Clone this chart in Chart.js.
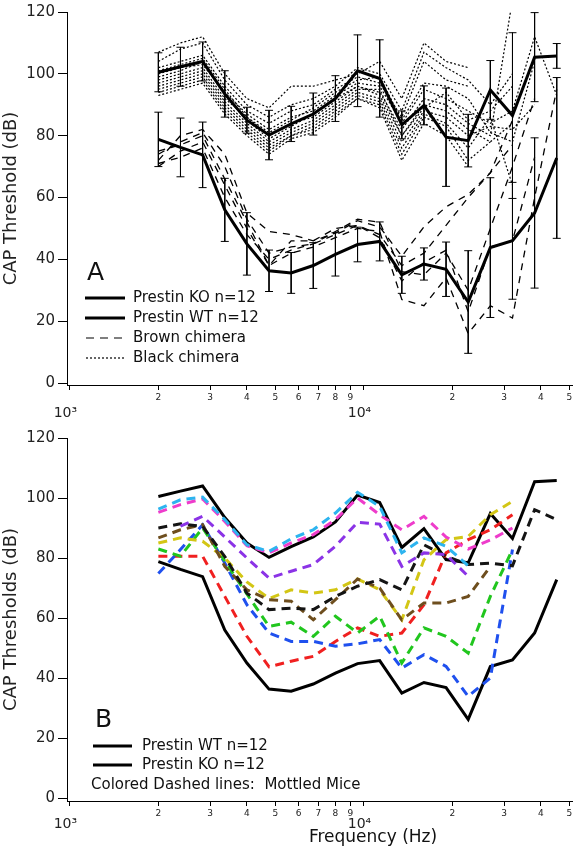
<!DOCTYPE html>
<html>
<head>
<meta charset="utf-8">
<script src="https://cdn.jsdelivr.net/npm/chart.js@4.4.0/dist/chart.umd.min.js"></script>
<style>
html, body { margin: 0; padding: 0; background: #fff; }
#wrap { position: relative; width: 586px; height: 853px; }
canvas { position: absolute; left: 0; }
#capA { top: 0; }
#capB { top: 420px; }
</style>
</head>
<body>
<div id="wrap">
  <canvas id="capA" width="586" height="420"></canvas>
  <canvas id="capB" width="586" height="433"></canvas>
</div>
<script>
// frequencies (Hz), quarter octave steps
const freqs = [2000, 2378, 2828, 3364, 4000, 4757, 5657, 6727, 8000, 9514, 11314, 13454, 16000, 19027, 22627, 26909, 32000, 38055, 45255];

// group means and SDs
const koMean = [100.5, 102.3, 104, 93.5, 85, 80.2, 83.8, 87, 92, 101, 98.5, 83.5, 89.8, 79.5, 78.4, 94.8, 86.5, 105.4, 105.8];
const koSD = [6.3, 6.3, 6.3, 7.5, 4.2, 8, 5.7, 6.8, 7.4, 11.6, 12.5, 4.5, 6.3, 15.9, 8.5, 9.5, 26.8, 14.4, 4];
const wtMean = [78.8, 76.2, 73.8, 56, 45, 36.3, 35.6, 38, 41.6, 44.8, 45.8, 35, 38.5, 36.8, 26.2, 43.8, 46, 55, 72.8];
const wtSD = [8.8, 9.5, 10.6, 10.2, 10.1, 6.7, 6.6, 7.4, 7, 5.6, 6.3, 6, 5.2, 8.8, 16.6, 22.6, 18.9, 24.3, 26];

// individual chimeras (panel A)
const blackChimera = [
  [107, 110, 112, 100, 92, 89, 96, 96, 98, 100, 104, 92, 110, 104, 102, null, null, null, null],
  [104, 108, 110, 98, 90, 86, 90, 92, 96, 102, 100, 88, 107, 102, 98, 90, 100, null, null],
  [102, 104, 106, 96, 88, 84, 88, 90, 95, 99, 97, 86, 104, 98, 96, null, null, null, null],
  [100, 102, 103, 94, 87, 82, 86, 88, 93, 97, 96, 84, 95, 92, 88, 84, 88, 112, 93],
  [98, 100, 102, 92, 86, 80, 84, 86, 91, 96, 94, 82, 92, 90, 84, 80, 124, null, null],
  [97, 99, 101, 91, 84, 78, 82, 85, 90, 95, 95, 80, 90, 88, 82, 78, 84, null, null],
  [96, 98, 100, 90, 83, 77, 81, 84, 89, 94, 92, 78, 88, 86, 80, 83, 82, 90, null],
  [95, 97, 99, 89, 82, 76, 80, 83, 88, 93, 91, 76, 87, 84, 76, 86, 64, null, null],
  [94, 96, 98, 88, 81, 75, 80, 82, 87, 92, 90, 74, 86, 83, 72, 78, null, null, null],
  [93, 95, 97, 87, 80, 74, 79, 81, 86, 92, 89, 72, 84, 80, 70, null, null, null, null],
  [99, 101, 104, 93, 85, 79, 83, 87, 92, 96, 93, 80, 89, 94, 85, 88, 96, null, null],
  [101, 103, 105, 95, 86, 81, 85, 89, 94, 98, 99, 85, 97, 96, 92, 81, 78, 104, null]
];
const brownChimera = [
  [72, 80, 82, 74, 55, 49, 48, 46, 48.5, 52.5, 50.5, 41, 50.5, 57, 61, 68, 85, null, null],
  [75, 77, 80, 66, 52, 38, 42, 44, 47, 50, 49, 27, 25, 34, 16, 25, 21, 60, 95],
  [70, 75, 78, 64, 50, 38, 46, 46, 50, 51, 47, 33, 39, 43, 23, 44, 46, 73, null],
  [71, 73, 76, 60, 48, 40, 43, 45, 49, 53, 52, 36, 35, 42, 30, 50, 70, 92, null],
  [74, 78, 81, 70, 53, 42, 44, 45, 48, 51, 48, 38, 42, 51, 60, 68, 77, null, null]
];

// mottled mice (panel B)
const mCyan = [96.3, 99.4, 100.3, 92.8, 84.4, 82.2, 86.4, 89.4, 95, 101.9, 97.2, 81.7, 86.7, 83.9, 77.4, null, null, null, null];
const mMagenta = [95.2, 97.8, 99.7, 92.2, 84.1, 81.7, 85, 87.8, 92.8, 100, 94.4, 89.4, 93.9, 87, 83, 86, 90, null, null];
const mPurple = [null, 90.6, 93.9, 87, 80, 73.3, 75.6, 77.8, 83.9, 91.9, 91.3, 77.2, 81.7, 81.1, 73.9, null, null, null, null];
const mBlack = [90, 91.4, 90.5, 80.5, 68.3, 62.8, 63.3, 62.8, 67.2, 70.6, 72.8, 69.4, 84.4, 80.6, 77.8, 78.3, 77.4, 96.1, 92.8];
const mBrown = [86.7, 89.4, 91.1, 77.2, 69.4, 66.1, 65.6, 59.4, 66.1, 73, 70, 59.4, 65, 65, 67.2, 77.2, null, null, null];
const mYellow = [85, 86.7, 85.6, 80, 72, 66.5, 69.4, 68.3, 69.4, 73, 69.4, 59.4, 79.4, 86.1, 87.2, 94.4, 98.9, null, null];
const mGreen = [83, 80.6, 90, 79, 68, 57.2, 58.6, 53.9, 60.6, 55, 60.6, 45, 56.7, 53.9, 48.3, 67.2, 82.8, null, null];
const mBlue = [74.8, 82.8, 91.1, 78.3, 64.4, 55, 52.2, 52.2, 50.6, 51.4, 52.8, 43.3, 47.8, 43.9, 33.9, 40, 82.8, null, null];
const mRed = [80.6, 80.6, 80.6, 67.2, 53.9, 43.7, 45.6, 47.2, 52.2, 56.7, 53.9, 55, 64.4, 81.7, 86.1, 89.4, 94.4, null, null];

// axes
const xTicks = [1000, 2000, 3000, 4000, 5000, 6000, 7000, 8000, 9000, 10000, 20000, 30000, 40000, 50000];
const xTickLabels = ['10³', '2', '3', '4', '5', '6', '7', '8', '9', '10⁴', '2', '3', '4', '5'];
const yTicks = [0, 20, 40, 60, 80, 100, 120];

const FONT = '"DejaVu Sans"';

function pts(arr) {
  return arr.map((v, i) => ({ x: freqs[i], y: v }));
}
function errPts(mean, sd) {
  const out = [];
  mean.forEach((m, i) => {
    out.push({ x: freqs[i], y: m + sd[i] });
    out.push({ x: freqs[i], y: m - sd[i] });
    out.push({ x: freqs[i], y: null });
  });
  return out;
}

function xScale(axisH, majorLH) {
  return {
    type: 'logarithmic',
    min: 978, max: 51000,
    afterBuildTicks: s => { s.ticks = xTicks.map(v => ({ value: v })); },
    afterFit: s => { s.height = axisH; },
    grid: { drawOnChartArea: false, drawTicks: true, tickLength: 5, color: '#000', lineWidth: 1 },
    border: { color: '#000', width: 1 },
    ticks: {
      autoSkip: false, maxRotation: 0, minRotation: 0, padding: 2, color: '#222',
      callback: (v, i) => {
        const lab = xTickLabels[i];
        return lab.length > 1 ? ['', lab + '  '] : lab;
      },
      font: ctx => (xTickLabels[ctx.index] || '').length > 1
        ? { family: FONT, size: 14, lineHeight: majorLH }
        : { family: FONT, size: 9, lineHeight: 1.2 }
    }
  };
}

function yScale(min, title) {
  return {
    type: 'linear',
    min: min, max: 120,
    afterBuildTicks: s => { s.ticks = yTicks.map(v => ({ value: v })); },
    afterFit: s => { s.width = 67; },
    grid: { drawOnChartArea: false, drawTicks: true, tickLength: 9, color: '#000', lineWidth: 1 },
    border: { color: '#000', width: 1 },
    ticks: { padding: 3, color: '#222', font: { family: FONT, size: 15 } },
    title: { display: true, text: title, color: '#222', font: { family: FONT, size: 18 }, padding: { top: 1, bottom: 0 } }
  };
}

function legendItem(ctx, y, x0, x1, dash, width, text, tx) {
  ctx.save();
  ctx.strokeStyle = '#000';
  ctx.lineWidth = width;
  ctx.setLineDash(dash);
  ctx.beginPath();
  ctx.moveTo(x0, y);
  ctx.lineTo(x1, y);
  ctx.stroke();
  ctx.restore();
  ctx.fillText(text, tx, y);
}

const legendA = {
  id: 'legendA',
  afterDraw(chart) {
    const ctx = chart.ctx;
    ctx.save();
    ctx.fillStyle = '#111';
    ctx.font = '25px ' + FONT;
    ctx.textBaseline = 'alphabetic';
    ctx.fillText('A', 87, 280);
    ctx.font = '15px ' + FONT;
    ctx.textBaseline = 'middle';
    legendItem(ctx, 298, 85, 125, [], 3, 'Prestin KO n=12', 133);
    legendItem(ctx, 318, 85, 125, [], 3, 'Prestin WT n=12', 133);
    legendItem(ctx, 338, 86, 125, [8, 6], 1.2, 'Brown chimera', 133);
    legendItem(ctx, 358, 86, 125, [2, 2], 1.2, 'Black chimera', 133);
    ctx.restore();
  }
};

const legendB = {
  id: 'legendB',
  afterDraw(chart) {
    const ctx = chart.ctx;
    ctx.save();
    ctx.fillStyle = '#111';
    ctx.font = '25px ' + FONT;
    ctx.textBaseline = 'alphabetic';
    ctx.fillText('B', 95, 307);
    ctx.font = '15px ' + FONT;
    ctx.textBaseline = 'middle';
    legendItem(ctx, 326, 93, 132, [], 3, 'Prestin WT n=12', 142);
    legendItem(ctx, 345, 93, 132, [], 3, 'Prestin KO n=12', 142);
    ctx.fillText('Colored Dashed lines:  Mottled Mice', 91, 365);
    // x axis title
    ctx.font = '17px ' + FONT;
    ctx.textAlign = 'center';
    ctx.fillText('Frequency (Hz)', 373, 418);
    ctx.restore();
  }
};

const common = {
  responsive: false,
  animation: false,
  events: [],
  elements: { line: { tension: 0 }, point: { radius: 0 } },
  plugins: { legend: { display: false }, tooltip: { enabled: false } }
};

// panel A
const dsA = [];
dsA.push({ data: pts(koMean), borderColor: '#000', borderWidth: 3, order: 0 });
dsA.push({ data: pts(wtMean), borderColor: '#000', borderWidth: 3, order: 0 });
[koMean, wtMean].forEach((m, k) => {
  dsA.push({
    data: errPts(m, k === 0 ? koSD : wtSD),
    borderColor: '#000', borderWidth: 1, spanGaps: false,
    pointStyle: 'line', pointRadius: 4, pointBorderWidth: 1, pointBorderColor: '#000', order: 1
  });
});
brownChimera.forEach(s => {
  dsA.push({ data: pts(s), borderColor: '#000', borderWidth: 1.3, borderDash: [7, 6], order: 2 });
});
blackChimera.forEach(s => {
  dsA.push({ data: pts(s), borderColor: '#000', borderWidth: 1.2, borderDash: [2, 2], order: 3 });
});

new Chart(document.getElementById('capA'), {
  type: 'line',
  data: { datasets: dsA },
  options: Object.assign({}, common, {
    layout: { padding: { top: 6, right: 14, left: 0, bottom: 0 } },
    scales: { x: xScale(35, 1.0), y: yScale(-0.64, 'CAP Threshold (dB)') }
  }),
  plugins: [legendA]
});

// panel B
const mottled = [
  [mCyan, '#2db4ef'], [mMagenta, '#ee3ccb'], [mPurple, '#8b33e6'],
  [mBlack, '#141414'], [mBrown, '#6e4e1e'], [mYellow, '#d3c615'],
  [mGreen, '#21c61e'], [mBlue, '#1f50ee'], [mRed, '#f02020']
];
const dsB = [];
dsB.push({ data: pts(koMean), borderColor: '#000', borderWidth: 3, order: 2 });
dsB.push({ data: pts(wtMean), borderColor: '#000', borderWidth: 3, order: 2 });
mottled.forEach(([s, c]) => {
  dsB.push({ data: pts(s), borderColor: c, borderWidth: 3, borderDash: [9, 6], order: 1 });
});

new Chart(document.getElementById('capB'), {
  type: 'line',
  data: { datasets: dsB },
  options: Object.assign({}, common, {
    layout: { padding: { top: 18, right: 14, left: 0, bottom: 0 } },
    scales: { x: xScale(52, 0.8), y: yScale(-1.0, 'CAP Thresholds (dB)') }
  }),
  plugins: [legendB]
});
</script>
</body>
</html>
